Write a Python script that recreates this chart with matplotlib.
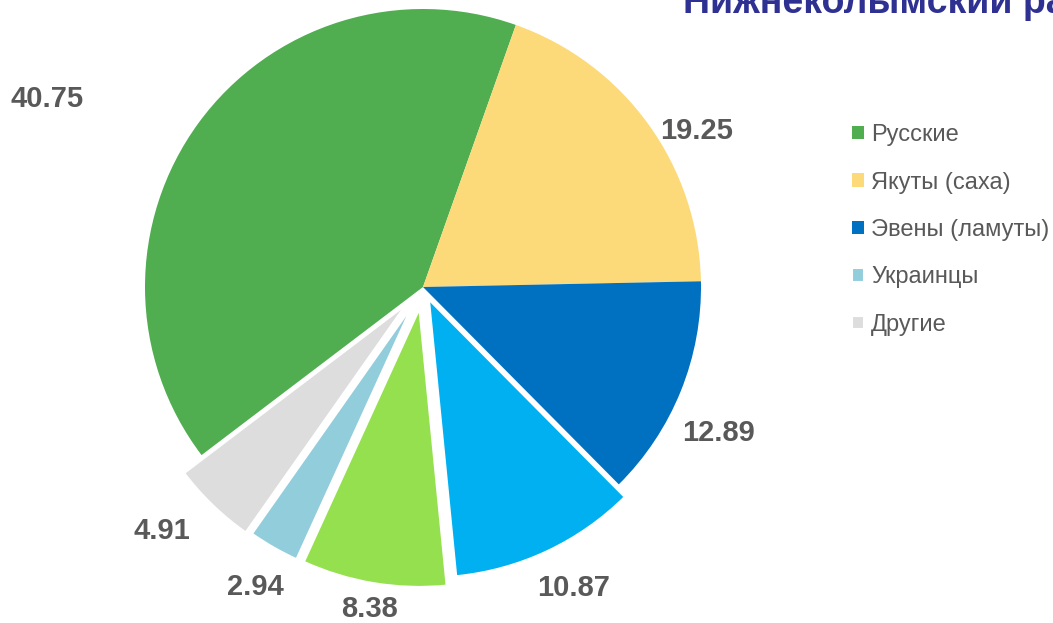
import numpy as np
import matplotlib
matplotlib.use('Agg')
import matplotlib.pyplot as plt

plt.rcParams['font.family'] = ['Liberation Sans', 'DejaVu Sans']

# доли населения, %
names = ['Русские', 'Якуты (саха)', 'Эвены (ламуты)', '', '', 'Украинцы', 'Другие']
shares = [40.75, 19.25, 12.89, 10.87, 8.38, 2.94, 4.91]
colors = ['#50AE50', '#FCDA7A', '#0070C0', '#00B0F0', '#95E04F', '#92CDDC', '#DDDDDD']
explode = [0, 0, 0, 0.05, 0.08, 0.08, 0.09]   # в долях радиуса
in_legend = [0, 1, 2, 5, 6]

# подписи: расстояние от центра (в радиусах) и сдвиг угла, как в Excel
label_dist = [1.51, 1.134, 1.185, 1.209, 1.174, 1.238, 1.286]
label_shift = [9.6, -6.2, -4.2, 1.35, 0.1, 0.6, -3.0]

W, H = 1053, 623
cx, cy, R = 423, H - 287, 278

fig = plt.figure(figsize=(W / 100, H / 100), dpi=100)
ax = fig.add_axes([0, 0, 1, 1])

# matplotlib сдвигает сектор на explode в единицах данных, не радиуса
wedges, _ = ax.pie(shares, colors=colors, explode=[e * R for e in explode],
                   startangle=217.2, counterclock=False, center=(cx, cy), radius=R,
                   wedgeprops=dict(linewidth=0))
for w, e in zip(wedges, explode):
    if e > 0:
        w.set_edgecolor('white')
        w.set_linewidth(1.5)
ax.set_xlim(0, W)
ax.set_ylim(0, H)
ax.set_aspect('equal')
ax.axis('off')

for w, v, d, s in zip(wedges, shares, label_dist, label_shift):
    a = np.deg2rad((w.theta1 + w.theta2) / 2 + s)
    ax.text(cx + d * R * np.cos(a), cy + d * R * np.sin(a), f'{v:.2f}',
            ha='center', va='center', fontsize=21, fontweight='bold', color='#595959')

ax.legend([wedges[i] for i in in_legend], [names[i] for i in in_legend],
          loc='upper left', bbox_to_anchor=(852 / W, 1 - 124 / H), frameon=False,
          fontsize=17, labelcolor='#595959', handlelength=0.5, handleheight=0.5,
          handletextpad=0.3, labelspacing=1.08, borderpad=0, borderaxespad=0)

fig.text(683 / W, 1 - 13 / H, 'Нижнеколымский район', fontsize=27, fontweight='bold',
         color='#2E3192', ha='left', va='baseline')

fig.savefig('out.png', dpi=100)
